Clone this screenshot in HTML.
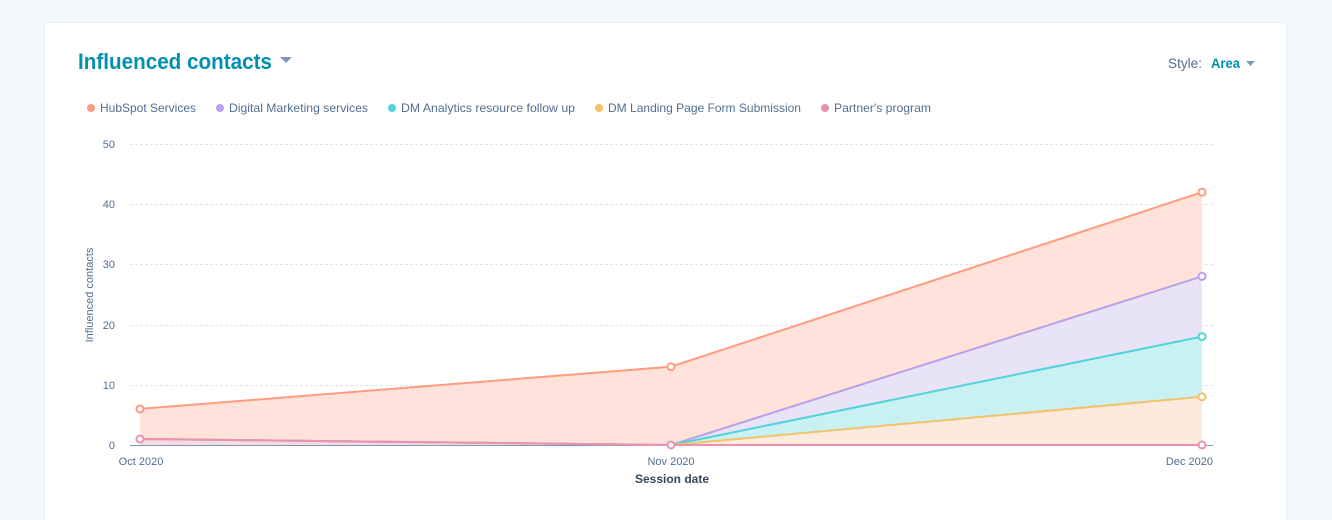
<!DOCTYPE html>
<html><head><meta charset="utf-8"><style>
html,body{margin:0;padding:0;background:#f5f8fa;width:1332px;height:520px;overflow:hidden;}
svg{display:block;}
text{font-family:"Liberation Sans",sans-serif;}
</style></head><body>
<svg width="1332" height="520" viewBox="0 0 1332 520" xmlns="http://www.w3.org/2000/svg">
<rect x="0" y="0" width="1332" height="520" fill="#f5f8fa"/>
<rect x="44.5" y="22.5" width="1242" height="510" rx="3" fill="#ffffff" stroke="#eaf0f6"/>
<text x="78" y="69" font-size="22" fill="#0091ae" font-weight="600" textLength="194" lengthAdjust="spacingAndGlyphs">Influenced contacts</text>
<path d="M280 57 L292 57 L286 63 Z" fill="#7c98b6"/>
<text x="1168" y="68" font-size="14" fill="#516f90" textLength="34" lengthAdjust="spacingAndGlyphs">Style:</text>
<text x="1211" y="68" font-size="14" fill="#0091ae" font-weight="700" textLength="29" lengthAdjust="spacingAndGlyphs">Area</text>
<path d="M1246 61 L1255 61 L1250.5 66 Z" fill="#7c98b6"/>
<g font-size="12" fill="#516f90">
<circle cx="91" cy="108" r="4" fill="#ff9b80"/><text x="100" y="112" textLength="96" lengthAdjust="spacingAndGlyphs">HubSpot Services</text>
<circle cx="220" cy="108" r="4" fill="#b9a0ea"/><text x="229" y="112" textLength="139" lengthAdjust="spacingAndGlyphs">Digital Marketing services</text>
<circle cx="392" cy="108" r="4" fill="#51d3d9"/><text x="401" y="112" textLength="174" lengthAdjust="spacingAndGlyphs">DM Analytics resource follow up</text>
<circle cx="599" cy="108" r="4" fill="#f5c26b"/><text x="608" y="112" textLength="193" lengthAdjust="spacingAndGlyphs">DM Landing Page Form Submission</text>
<circle cx="825" cy="108" r="4" fill="#ea90b1"/><text x="834" y="112" textLength="97" lengthAdjust="spacingAndGlyphs">Partner's program</text>
</g>
<g stroke="#dfe3eb" stroke-width="1" stroke-dasharray="3,2">
<line x1="130" y1="144.5" x2="1213" y2="144.5"/>
<line x1="130" y1="204.5" x2="1213" y2="204.5"/>
<line x1="130" y1="264.5" x2="1213" y2="264.5"/>
<line x1="130" y1="325.5" x2="1213" y2="325.5"/>
<line x1="130" y1="385.5" x2="1213" y2="385.5"/>
</g>
<g font-size="11" fill="#516f90" text-anchor="end">
<text x="115" y="148">50</text>
<text x="115" y="208">40</text>
<text x="115" y="268">30</text>
<text x="115" y="329">20</text>
<text x="115" y="389">10</text>
<text x="115" y="449">0</text>
</g>
<text transform="translate(93,295) rotate(-90)" font-size="11" fill="#516f90" text-anchor="middle">Influenced contacts</text>
<!-- areas -->
<path d="M140 408.9 L671 366.7 L1202 192.2 L1202 276.4 L671 445 L140 439 Z" fill="#ffe2da"/>
<path d="M140 439 L671 445 L1202 276.4 L1202 336.6 L671 445 L140 439 Z" fill="#e9e3f8"/>
<path d="M140 439 L671 445 L1202 336.6 L1202 396.8 L671 445 Z" fill="#c9f0f2"/>
<path d="M140 439 L671 445 L1202 396.8 L1202 445 L671 445 Z" fill="#fcebdc"/>
<path d="M140 439 L671 445 L1202 445 L1202 445 L140 445 Z" fill="#f6dbe6"/>
<line x1="130" y1="445.5" x2="1213" y2="445.5" stroke="#7c98b6" stroke-width="1"/>
<g fill="none" stroke-width="2" stroke-linejoin="round">
<polyline points="140,408.9 671,366.7 1202,192.2" stroke="#ff9b80"/>
<polyline points="140,439 671,445 1202,276.4" stroke="#b9a0ea"/>
<polyline points="140,439 671,445 1202,336.6" stroke="#51d3d9"/>
<polyline points="140,439 671,445 1202,396.8" stroke="#f5c26b"/>
<polyline points="140,439 671,445 1202,445" stroke="#ea90b1"/>
</g>
<g fill="#ffffff" stroke-width="2">
<circle cx="140" cy="408.9" r="3.5" stroke="#ff9b80"/>
<circle cx="140" cy="439" r="3.5" stroke="#ea90b1"/>
<circle cx="671" cy="366.7" r="3.5" stroke="#ff9b80"/>
<circle cx="671" cy="445" r="3.5" stroke="#ea90b1"/>
<circle cx="1202" cy="192.2" r="3.5" stroke="#ff9b80"/>
<circle cx="1202" cy="276.4" r="3.5" stroke="#b9a0ea"/>
<circle cx="1202" cy="336.6" r="3.5" stroke="#51d3d9"/>
<circle cx="1202" cy="396.8" r="3.5" stroke="#f5c26b"/>
<circle cx="1202" cy="445" r="3.5" stroke="#ea90b1"/>
</g>
<g font-size="11" fill="#516f90">
<text x="141" y="465" text-anchor="middle">Oct 2020</text>
<text x="671" y="465" text-anchor="middle">Nov 2020</text>
<text x="1213" y="465" text-anchor="end">Dec 2020</text>
</g>
<text x="672" y="483" font-size="12" font-weight="700" fill="#33475b" text-anchor="middle">Session date</text>
</svg>
</body></html>
